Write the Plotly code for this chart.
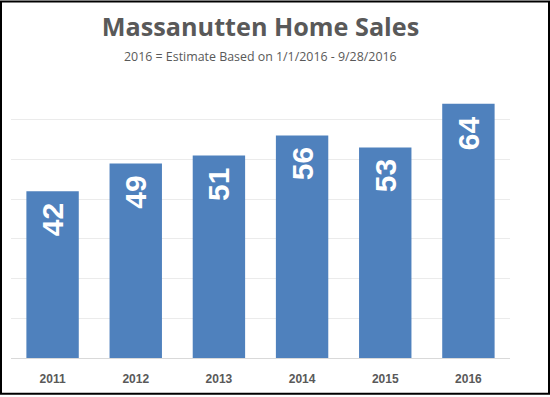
import plotly.graph_objects as go

years = ["2011", "2012", "2013", "2014", "2015", "2016"]
sales = [42, 49, 51, 56, 53, 64]

W, H = 550, 397
ml, mr, mt, mb = 11, 40, 80, 37
pw, ph = W - ml - mr, H - mt - mb

fig = go.Figure(go.Bar(
    x=years, y=sales,
    marker=dict(color="#4f81bd", line=dict(width=0)),
    hoverinfo="skip",
))

# value labels placed at each category index (category axis position) and bar value
label_annotations = [
    dict(
        x=i, y=v, xref="x", yref="y",
        text=str(v), textangle=-90,
        xanchor="center", yanchor="top", yshift=-10,
        showarrow=False,
        font=dict(family="Liberation Sans", size=30, color="white", weight="bold"),
    )
    for i, v in enumerate(sales)
]

fig.update_layout(
    width=W, height=H,
    margin=dict(l=ml, r=mr, t=mt, b=mb),
    paper_bgcolor="white", plot_bgcolor="white",
    bargap=0.37,
    showlegend=False,
    hovermode=False,
    title=dict(
        text="Massanutten Home Sales",
        x=0.5, xref="paper", xanchor="center",
        y=1 - 27 / H, yref="container", yanchor="middle",
        font=dict(family="Open Sans", size=25.2, color="#595959", weight="bold"),
    ),
    xaxis=dict(
        type="category", categoryorder="array", categoryarray=years,
        range=[-0.5, len(years) - 0.5],
        showgrid=False, showline=True, linecolor="#d9d9d9", linewidth=1,
        ticks="", tickfont=dict(family="Liberation Sans", size=12, color="#595959", weight="bold"),
        ticklabelstandoff=10,
    ),
    yaxis=dict(
        range=[0, 70], dtick=10, showgrid=True, gridcolor="#ebebeb", gridwidth=1,
        showticklabels=False, zeroline=False, showline=False, ticks="",
    ),
    annotations=[dict(
        text="2016 = Estimate Based on 1/1/2016 - 9/28/2016",
        x=0.5, xref="paper", xanchor="center",
        y=(H - mb - 56) / ph, yref="paper", yanchor="middle",
        showarrow=False,
        font=dict(family="Open Sans", size=12.4, color="#595959"),
    )] + label_annotations,
    shapes=[dict(
        type="rect", xref="paper", yref="paper",
        x0=(1 - ml) / pw, x1=(W - 1 - ml) / pw,
        y0=(H - mb - (H - 1)) / ph, y1=(H - mb - 1) / ph,
        line=dict(color="black", width=2), fillcolor="rgba(0,0,0,0)",
        layer="above",
    )],
)

fig.write_html(
    "out.html",
    config={"displayModeBar": False, "staticPlot": True},
    post_script="document.body.style.margin='0';",
)
